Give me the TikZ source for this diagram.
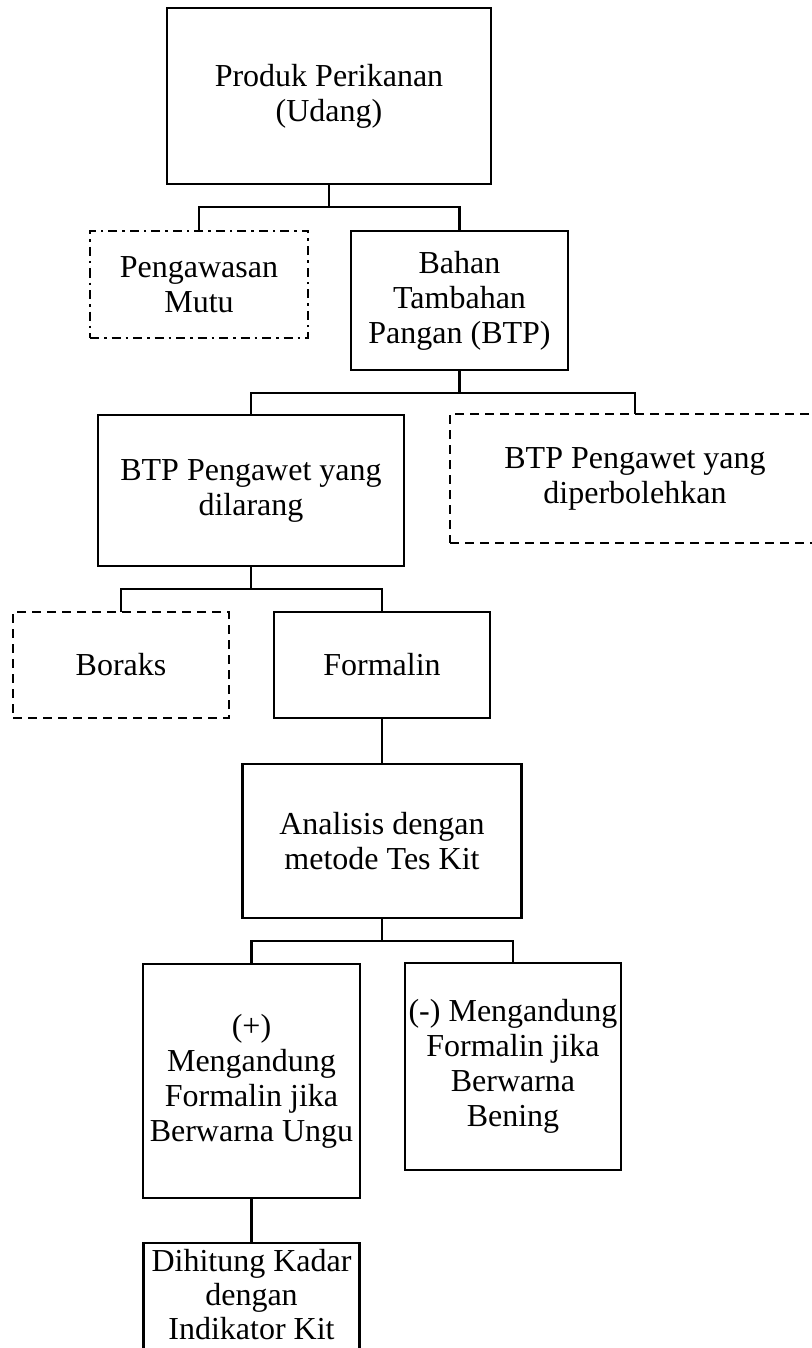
\documentclass[tikz,border=0pt]{standalone}
\usepackage{fontspec}
\setmainfont{Liberation Serif}
\begin{document}
\begin{tikzpicture}[x=1pt,y=-1pt,
  box/.style={draw, line width=2.5pt, rectangle, inner sep=0pt, outer sep=0pt,
    align=center, font=\fontsize{32}{35}\selectfont},
  dashbox/.style={box, dash pattern=on 9pt off 6pt},
  dotdashbox/.style={box, dash pattern=on 9pt off 5pt on 2.5pt off 5pt},
  link/.style={line width=2.5pt, line join=miter}]
\useasboundingbox (0,0) rectangle (811,1348);
\fill[white] (0,0) rectangle (811,1348);
\node[box, minimum width=324pt, minimum height=176pt] (prod) at (329,96) {Produk Perikanan\\(Udang)};
\node[dotdashbox, minimum width=218pt, minimum height=107pt] (peng) at (199,284.5) {Pengawasan\\Mutu};
\node[box, minimum width=217pt, minimum height=139pt] (bahan) at (459.5,300.5) {Bahan\\Tambahan\\Pangan (BTP)};
\node[box, minimum width=306pt, minimum height=151pt] (dilarang) at (251,490.5) {BTP Pengawet yang\\dilarang};
\node[dashbox, minimum width=370pt, minimum height=129pt] (boleh) at (635,478.5) {BTP Pengawet yang\\diperbolehkan};
\node[dashbox, minimum width=216pt, minimum height=106pt] (boraks) at (121,665) {Boraks};
\node[box, minimum width=216pt, minimum height=106pt] (formalin) at (382,665) {Formalin};
\node[box, minimum width=279pt, minimum height=154pt] (analisis) at (382,841) {Analisis dengan\\metode Tes Kit};
\node[box, minimum width=217pt, minimum height=234pt] (plus) at (251.5,1081) {(+)\\Mengandung\\Formalin jika\\Berwarna Ungu};
\node[box, minimum width=216pt, minimum height=207pt] (minus) at (513,1066.5) {(-) Mengandung\\Formalin jika\\Berwarna\\Bening};
\node[box, draw=none, minimum width=216pt, minimum height=104pt, font=\fontsize{32}{34}\selectfont] (hitung) at (251.5,1295) {Dihitung Kadar\\dengan\\Indikator Kit};
\draw[link] ([yshift=-12pt]hitung.south west) -- (hitung.north west) -- (hitung.north east) -- ([yshift=-12pt]hitung.south east);
\coordinate (j1) at (329,207);
\coordinate (j2) at (459.5,393);
\coordinate (j3) at (251,589);
\coordinate (j5) at (382,941);
\draw[link] (prod.south) -- (j1);
\draw[link] (peng.north) |- (j1) -| (bahan.north);
\draw[link] (bahan.south) -- (j2);
\draw[link] (dilarang.north) |- (j2) -| (boleh.north);
\draw[link] (dilarang.south) -- (j3);
\draw[link] (boraks.north) |- (j3) -| (formalin.north);
\draw[link] (formalin.south) -- (analisis.north);
\draw[link] (analisis.south) -- (j5);
\draw[link] (plus.north) |- (j5) -| (minus.north);
\draw[link] (plus.south) -- (hitung.north);
\end{tikzpicture}
\end{document}
